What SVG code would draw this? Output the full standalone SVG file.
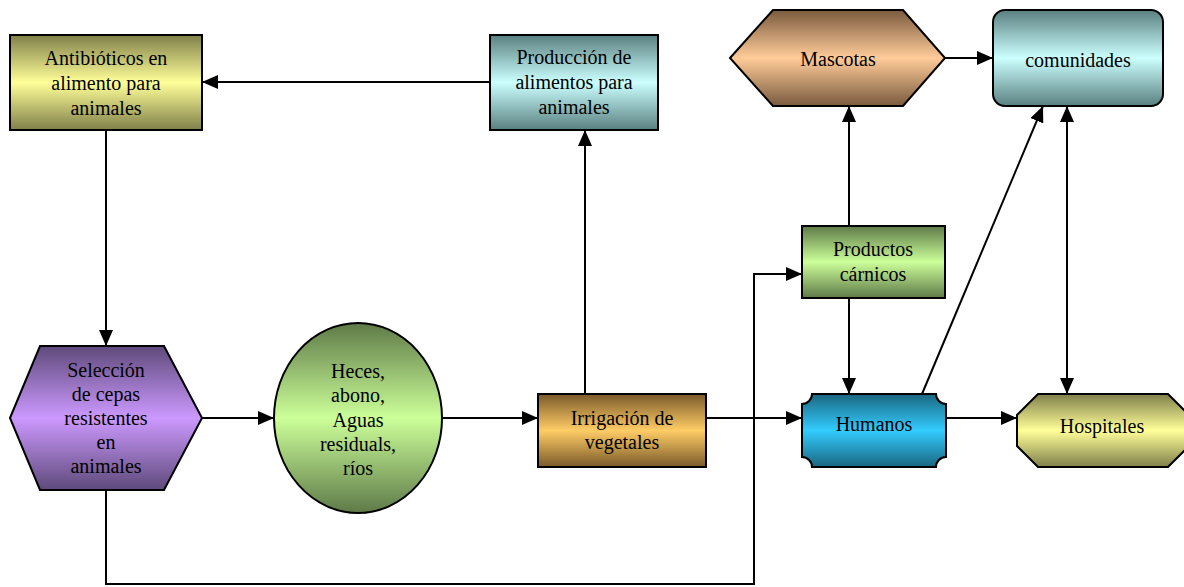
<svg xmlns="http://www.w3.org/2000/svg" width="1184" height="587" viewBox="0 0 1184 587">
<style>
.n{stroke:#000;stroke-width:2}
text{font-family:'Liberation Serif','DejaVu Serif',serif;font-size:20px;fill:#000;text-anchor:middle}
.c{fill:none;stroke:#000;stroke-width:2}
</style>
<defs>
<linearGradient id="gY" x1="0" y1="0" x2="0" y2="1"><stop offset="0" stop-color="#80804a"/><stop offset="0.5" stop-color="#ffff99"/><stop offset="1" stop-color="#80804a"/></linearGradient>
<linearGradient id="gT" x1="0" y1="0" x2="0" y2="1"><stop offset="0" stop-color="#5a8080"/><stop offset="0.5" stop-color="#ccffff"/><stop offset="1" stop-color="#5a8080"/></linearGradient>
<linearGradient id="gP" x1="0" y1="0" x2="0" y2="1"><stop offset="0" stop-color="#7a5a3e"/><stop offset="0.5" stop-color="#ffcc99"/><stop offset="1" stop-color="#7a5a3e"/></linearGradient>
<linearGradient id="gG" x1="0" y1="0" x2="0" y2="1"><stop offset="0" stop-color="#5e7a48"/><stop offset="0.5" stop-color="#ccff99"/><stop offset="1" stop-color="#5e7a48"/></linearGradient>
<linearGradient id="gV" x1="0" y1="0" x2="0" y2="1"><stop offset="0" stop-color="#5e4a7a"/><stop offset="0.5" stop-color="#cc99ff"/><stop offset="1" stop-color="#5e4a7a"/></linearGradient>
<linearGradient id="gO" x1="0" y1="0" x2="0" y2="1"><stop offset="0" stop-color="#7a5a2a"/><stop offset="0.5" stop-color="#ffcc66"/><stop offset="1" stop-color="#7a5a2a"/></linearGradient>
<linearGradient id="gB" x1="0" y1="0" x2="0" y2="1"><stop offset="0" stop-color="#1a6680"/><stop offset="0.5" stop-color="#33ccff"/><stop offset="1" stop-color="#1a6680"/></linearGradient>
<marker id="ah" viewBox="0 0 16 14" refX="16" refY="7" markerWidth="16" markerHeight="14" markerUnits="userSpaceOnUse" orient="auto-start-reverse"><path d="M0,0 L16,7 L0,14 Z" fill="#000"/></marker>
</defs>

<g id="antibioticos">
<rect class="n" x="10" y="35" width="192" height="95" fill="url(#gY)"/>
<text x="106" y="65" font-family="Liberation Serif, serif">Antibióticos en</text>
<text x="106" y="90" font-family="Liberation Serif, serif">alimento para</text>
<text x="106" y="115" font-family="Liberation Serif, serif">animales</text>
</g>
<g id="produccion">
<rect class="n" x="490" y="35" width="168" height="95" fill="url(#gT)"/>
<text x="574" y="64" font-family="Liberation Serif, serif">Producción de</text>
<text x="574" y="89" font-family="Liberation Serif, serif">alimentos para</text>
<text x="574" y="114" font-family="Liberation Serif, serif">animales</text>
</g>
<g id="mascotas">
<polygon class="n" points="730,58 773,10 903,10 945,58 903,106 773,106" fill="url(#gP)"/>
<text x="838" y="66" font-family="Liberation Serif, serif">Mascotas</text>
</g>
<g id="comunidades">
<rect class="n" x="993" y="10" width="170" height="96" rx="12" fill="url(#gT)"/>
<text x="1078" y="67" font-family="Liberation Serif, serif">comunidades</text>
</g>
<g id="productos">
<rect class="n" x="802" y="226" width="143" height="72" fill="url(#gG)"/>
<text x="873" y="256" font-family="Liberation Serif, serif">Productos</text>
<text x="873" y="281" font-family="Liberation Serif, serif">cárnicos</text>
</g>
<g id="seleccion">
<polygon class="n" points="10,418 40,346 164,346 202,418 164,490 40,490" fill="url(#gV)"/>
<text x="106" y="377" font-family="Liberation Serif, serif">Selección</text>
<text x="106" y="401" font-family="Liberation Serif, serif">de cepas</text>
<text x="106" y="425" font-family="Liberation Serif, serif">resistentes</text>
<text x="106" y="449" font-family="Liberation Serif, serif">en</text>
<text x="106" y="473" font-family="Liberation Serif, serif">animales</text>
</g>
<g id="heces">
<ellipse class="n" cx="358" cy="418" rx="84" ry="95" fill="url(#gG)"/>
<text x="358" y="378" font-family="Liberation Serif, serif">Heces,</text>
<text x="358" y="402" font-family="Liberation Serif, serif">abono,</text>
<text x="358" y="427" font-family="Liberation Serif, serif">Aguas</text>
<text x="358" y="451" font-family="Liberation Serif, serif">residuals,</text>
<text x="358" y="475" font-family="Liberation Serif, serif">ríos</text>
</g>
<g id="irrigacion">
<rect class="n" x="538" y="394" width="168" height="73" fill="url(#gO)"/>
<text x="622" y="425" font-family="Liberation Serif, serif">Irrigación de</text>
<text x="622" y="449" font-family="Liberation Serif, serif">vegetales</text>
</g>
<g id="humanos">
<path class="n" d="M812,394 H936 A10,10 0 0 0 946,404 V457 A10,10 0 0 0 936,467 H812 A10,10 0 0 0 802,457 V404 A10,10 0 0 0 812,394 Z" fill="url(#gB)"/>
<text x="874" y="431" font-family="Liberation Serif, serif">Humanos</text>
</g>
<g id="hospitales">
<polygon class="n" points="1017,415 1038,394 1168,394 1189,415 1189,446 1168,467 1038,467 1017,446" fill="url(#gY)"/>
<text x="1102" y="433" font-family="Liberation Serif, serif">Hospitales</text>
</g>

<g id="connectors">
<path class="c" d="M490,82 H202" marker-end="url(#ah)"/>
<path class="c" d="M106,130 V346" marker-end="url(#ah)"/>
<path class="c" d="M202,418 H274" marker-end="url(#ah)"/>
<path class="c" d="M442,418 H538" marker-end="url(#ah)"/>
<path class="c" d="M585,394 V130" marker-end="url(#ah)"/>
<path class="c" d="M706,418 H802" marker-end="url(#ah)"/>
<path class="c" d="M106,490 V584 H754 V274 H802" marker-end="url(#ah)"/>
<path class="c" d="M849,226 V106" marker-end="url(#ah)"/>
<path class="c" d="M849,298 V394" marker-end="url(#ah)"/>
<path class="c" d="M945,58 H993" marker-end="url(#ah)"/>
<path class="c" d="M922,394 L1043,106" marker-end="url(#ah)"/>
<path class="c" d="M1067,106 V394" marker-start="url(#ah)" marker-end="url(#ah)"/>
<path class="c" d="M946,418 H1017" marker-end="url(#ah)"/>
</g>
</svg>
